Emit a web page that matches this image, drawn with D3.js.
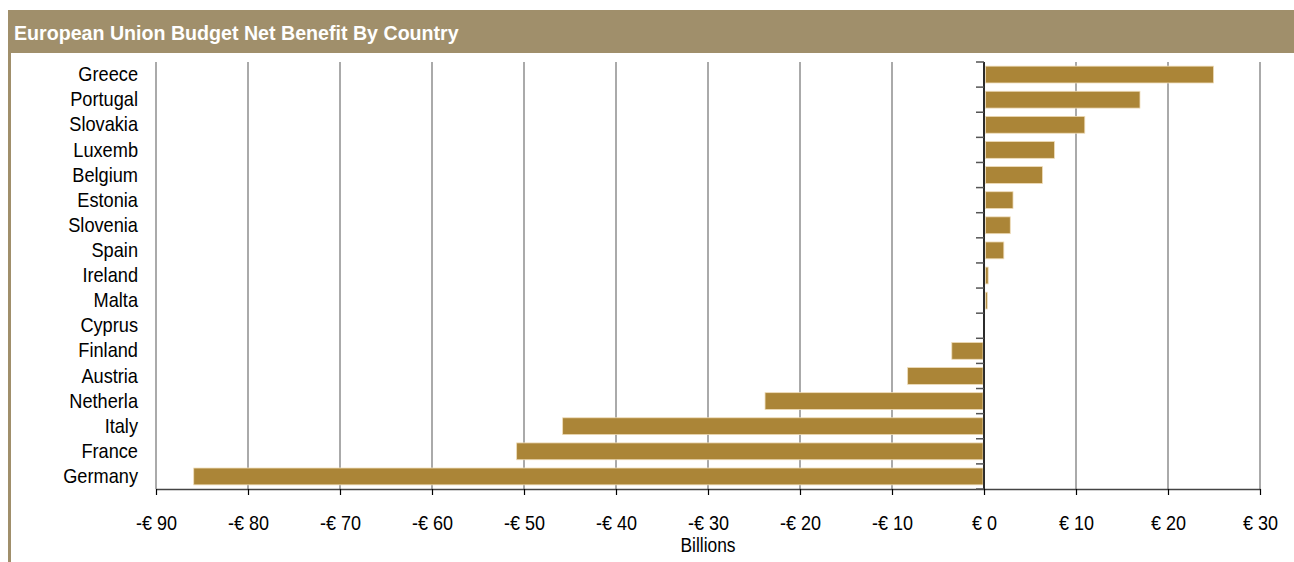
<!DOCTYPE html>
<html><head><meta charset="utf-8">
<script src="https://cdn.jsdelivr.net/npm/d3@7"></script>
<style>
html,body{margin:0;padding:0;background:#fff;}
svg{display:block;}
text{font-family:"Liberation Sans",Arial,sans-serif;}
</style></head>
<body><svg id="c" width="1294" height="562"></svg>
<script>
const title = "European Union Budget Net Benefit By Country";
const countries = ["Greece","Portugal","Slovakia","Luxemb","Belgium","Estonia","Slovenia","Spain","Ireland","Malta","Cyprus","Finland","Austria","Netherla","Italy","France","Germany"];
const netBenefit = [24.9,16.9,10.9,7.6,6.3,3.1,2.8,2.1,0.4,0.3,0,-3.5,-8.3,-23.8,-45.8,-50.8,-85.9];
const xTicks = [-90,-80,-70,-60,-50,-40,-30,-20,-10,0,10,20,30];
const xTickLabels = ["-€ 90","-€ 80","-€ 70","-€ 60","-€ 50","-€ 40","-€ 30","-€ 20","-€ 10","€ 0","€ 10","€ 20","€ 30"];
const xAxisTitle = "Billions";

const svg = d3.select("#c");
const W = 1294, H = 562;
const frameColor = "#a08f6b";
const NARROW = 0.9; // condensed look

// narrow text helper: places text at (x,y) compressed horizontally
function narrowText(sel, x, y, sx){
  sel.attr("x",0).attr("y",0).attr("transform",`translate(${x},${y}) scale(${sx},1)`);
  return sel;
}

// frame: title bar and left stripe
svg.append("rect").attr("x",8).attr("y",10).attr("width",W-8).attr("height",43).attr("fill",frameColor);
svg.append("rect").attr("x",8).attr("y",10).attr("width",3).attr("height",H-10).attr("fill",frameColor);
const t = svg.append("text").text(title).attr("fill","#fff").attr("font-weight","bold").attr("font-size",21);
narrowText(t, 14, 40, 1);
const tl = t.node().getComputedTextLength();
narrowText(t, 14, 40, 445/tl);

const x = d3.scaleLinear().domain([-90,30]).range([156,1260]);
const y = d3.scaleBand().domain(countries).range([62,489]).paddingInner(0.33).paddingOuter(0.165);
const yb = d3.scaleBand().domain(countries).range([62,489]);

// gridlines
svg.append("g").selectAll("line").data(xTicks).join("line")
  .attr("x1",d=>x(d)).attr("x2",d=>x(d)).attr("y1",62).attr("y2",489)
  .attr("stroke","#aaaaaa").attr("stroke-width",1.2).attr("shape-rendering","crispEdges");

// bars
svg.append("g").selectAll("rect").data(countries).join("rect")
  .attr("x",(d,i)=> netBenefit[i] >= 0 ? x(0)+1.5 : x(netBenefit[i]))
  .attr("width",(d,i)=> Math.max(0, Math.abs(x(netBenefit[i]) - x(0)) - 1))
  .attr("y",d=>y(d)).attr("height",y.bandwidth())
  .attr("fill",(d,i)=> netBenefit[i]===0 ? "none" : "#ab8537")
  .attr("stroke",(d,i)=> netBenefit[i]===0 ? "none" : "#efdcb8").attr("stroke-width",0.8);

// bottom axis
const xAxis = d3.axisBottom(x).tickValues(xTicks).tickFormat((d,i)=>xTickLabels[i]).tickSize(6).tickSizeOuter(0);
const gx = svg.append("g").attr("transform","translate(0,489)").call(xAxis);
gx.select(".domain").attr("stroke","#444").attr("stroke-width",1.5);
gx.selectAll(".tick line").attr("stroke","#000").attr("stroke-width",1.2);
gx.selectAll(".tick text").attr("font-size",20).attr("fill","#000").attr("dy",null)
  .attr("font-family",'"Liberation Sans",Arial,sans-serif')
  .each(function(){ narrowText(d3.select(this), 0, 41, NARROW); });
const bt = svg.append("text").attr("text-anchor","middle").attr("font-size",20).attr("fill","#000").text(xAxisTitle);
narrowText(bt, x(-30), 552, 0.87);

// zero axis with category ticks
const zeroX = x(0);
svg.append("line").attr("x1",zeroX).attr("x2",zeroX).attr("y1",62).attr("y2",489).attr("stroke","#000").attr("stroke-width",1.5);
const bounds = countries.map(d=>yb(d)).concat([489]);
svg.append("g").selectAll("line").data(bounds).join("line")
  .attr("x1",zeroX-8).attr("x2",zeroX).attr("y1",d=>d).attr("y2",d=>d)
  .attr("stroke","#555").attr("stroke-width",1.5);

// category labels
svg.append("g").selectAll("text").data(countries).join("text")
  .attr("dy","0.33em").attr("text-anchor","end").attr("font-size",20).attr("fill","#000").text(d=>d)
  .each(function(d){ narrowText(d3.select(this), 138, yb(d)+yb.bandwidth()/2, 0.91); });
</script></body></html>
